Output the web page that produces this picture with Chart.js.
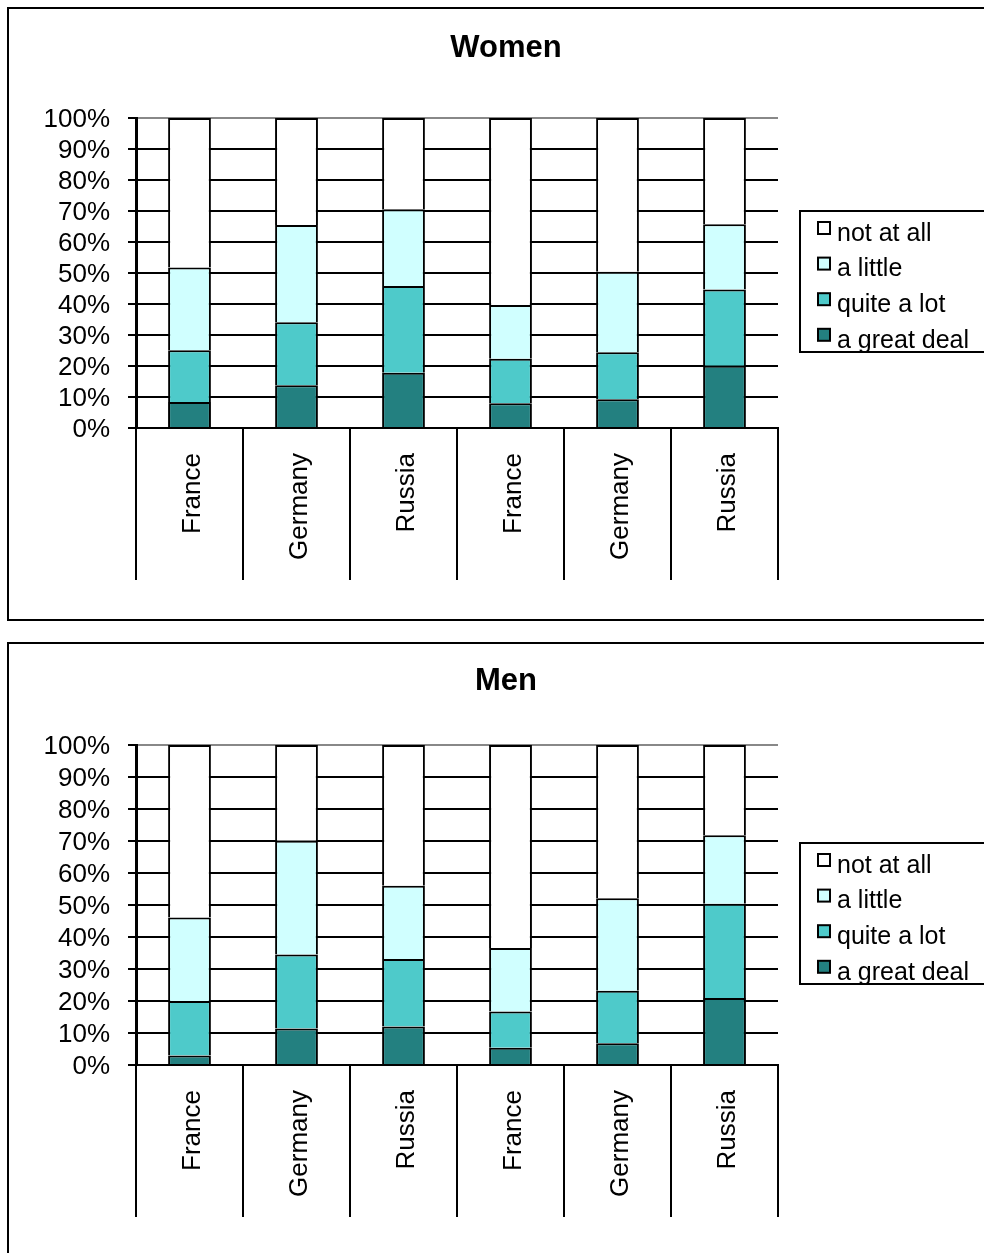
<!DOCTYPE html>
<html>
<head>
<meta charset="utf-8">
<title>Women / Men</title>
<script src="https://cdn.jsdelivr.net/npm/chart.js@4/dist/chart.umd.min.js"></script>
<style>
  html, body { margin: 0; padding: 0; background: #fff; overflow: hidden; }
  body { width: 984px; height: 1253px; position: relative; }
  .frame { position: absolute; left: 7px; width: 1100px; border: 2px solid #000; box-sizing: border-box; background: #fff; }
  #frameWomen { top: 7px; height: 614px; }
  #frameMen { top: 642px; height: 700px; }
  canvas { position: absolute; left: 0; }
  #women { top: 0; }
  #men { top: 632px; }
</style>
</head>
<body>
<div class="frame" id="frameWomen"></div>
<div class="frame" id="frameMen"></div>
<canvas id="women" width="1012" height="632"></canvas>
<canvas id="men" width="1012" height="621"></canvas>
<script>
// Categories along the x axis (two groups of three countries)
const categories = ['France', 'Germany', 'Russia', 'France', 'Germany', 'Russia'];

// Answer levels, bottom of the stack first
const seriesNames = ['a great deal', 'quite a lot', 'a little', 'not at all'];
const seriesColors = ['#238080', '#4ecaca', '#d0ffff', '#ffffff'];

// Women (percent of respondents)
const womenGreatDeal = [8.4, 13.8, 17.8, 8.0, 9.3, 20.1];
const womenQuiteALot = [16.7, 20.3, 28.0, 14.3, 15.1, 24.6];
const womenALittle   = [26.7, 31.4, 24.8, 17.4, 26.0, 21.0];
const womenNotAtAll  = [48.2, 34.5, 29.4, 60.3, 49.6, 34.3];

// Men (percent of respondents)
const menGreatDeal = [3.0, 11.4, 12.0, 5.4, 6.8, 20.9];
const menQuiteALot = [17.0, 23.1, 21.1, 11.3, 16.4, 29.5];
const menALittle   = [26.1, 35.6, 22.9, 19.9, 28.9, 21.4];
const menNotAtAll  = [53.9, 29.9, 44.0, 63.4, 47.9, 28.2];

// Y axis ticks
const yTicks = [0, 10, 20, 30, 40, 50, 60, 70, 80, 90, 100];

const FONT = '"Liberation Sans", Arial, sans-serif';
Chart.defaults.font.family = FONT;
Chart.defaults.color = '#000';

// Boxed legend to the right of the plot area
const boxedLegend = {
  id: 'boxedLegend',
  afterDraw(chart) {
    const { ctx, chartArea } = chart;
    const left = chartArea.right + 22;
    const height = 141;
    const top = (chartArea.top + chartArea.bottom) / 2 + 8.5 - height / 2;
    const rowGap = 35.6;
    const items = chart.data.datasets.slice().reverse();
    ctx.save();
    ctx.lineWidth = 2;
    ctx.strokeStyle = '#000';
    ctx.strokeRect(left, top, 400, height);
    ctx.font = '25px ' + FONT;
    ctx.textBaseline = 'middle';
    ctx.textAlign = 'left';
    items.forEach((ds, i) => {
      const y = top + 23 + i * rowGap;
      ctx.fillStyle = ds.backgroundColor;
      ctx.fillRect(left + 18, y - 12, 12, 12);
      ctx.strokeRect(left + 18, y - 12, 12, 12);
      ctx.fillStyle = '#000';
      ctx.fillText(ds.label, left + 37, y);
    });
    ctx.restore();
  }
};

function buildChart(canvasId, title, values, layoutSpec) {
  const datasets = seriesNames.map((name, i) => ({
    label: name,
    data: values[i],
    backgroundColor: seriesColors[i],
    borderColor: '#000',
    borderWidth: 2,
    barPercentage: 0.4,
    categoryPercentage: 1.0
  }));
  return new Chart(document.getElementById(canvasId), {
    type: 'bar',
    data: { labels: categories, datasets },
    plugins: [boxedLegend],
    options: {
      responsive: false,
      animation: false,
      devicePixelRatio: 1,
      layout: { padding: 0 },
      plugins: {
        legend: { display: false },
        tooltip: { enabled: false },
        title: {
          display: true,
          text: title,
          color: '#000',
          font: { size: 31, weight: 'bold', lineHeight: 1.2 },
          padding: { top: layoutSpec.titleTop, bottom: layoutSpec.titleBottom }
        }
      },
      scales: {
        x: {
          stacked: true,
          offset: true,
          border: { color: '#000', width: 2 },
          grid: {
            offset: true,
            drawOnChartArea: true,
            color: (ctx) => ctx.index === categories.length ? '#888888' : 'rgba(0,0,0,0)',
            lineWidth: 2,
            tickLength: 152,
            tickColor: '#000',
            tickWidth: 2
          },
          ticks: {
            autoSkip: false,
            minRotation: 90,
            maxRotation: 90,
            padding: 25 - 152,
            labelOffset: 3,
            color: '#000',
            font: { size: 26, lineHeight: 0.2 }
          },
          afterFit: (scale) => { scale.height = layoutSpec.xHeight; }
        },
        y: {
          stacked: true,
          min: 0,
          max: 100,
          afterBuildTicks: (scale) => { scale.ticks = yTicks.map(v => ({ value: v })); },
          border: { color: '#000', width: 3 },
          grid: {
            color: (ctx) => (ctx.tick && ctx.tick.value === 100) ? '#888888' : '#000',
            lineWidth: 2,
            tickLength: 8,
            tickColor: '#000',
            tickWidth: 2
          },
          ticks: {
            autoSkip: false,
            padding: 18,
            labelOffset: 2,
            color: '#000',
            font: { size: 26 },
            callback: (v) => v + '%'
          },
          afterFit: (scale) => { scale.width = 136; }
        },
        // empty right-hand axis that reserves the room used by the legend box
        legendSpace: {
          type: 'linear',
          position: 'right',
          display: true,
          grid: { display: false, drawOnChartArea: false },
          border: { display: false },
          ticks: { display: false },
          afterFit: (scale) => { scale.width = 1012 - 778; }
        }
      }
    }
  });
}

buildChart('women', 'Women',
  [womenGreatDeal, womenQuiteALot, womenALittle, womenNotAtAll],
  { titleTop: 30, titleBottom: 50.8, xHeight: 632 - 428 });

buildChart('men', 'Men',
  [menGreatDeal, menQuiteALot, menALittle, menNotAtAll],
  { titleTop: 31, titleBottom: 44.8, xHeight: 621 - 433 });
</script>
</body>
</html>
